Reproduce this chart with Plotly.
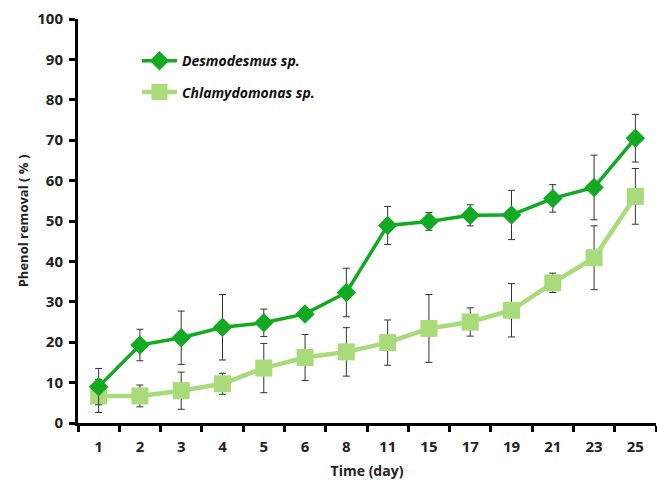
import plotly.graph_objects as go

days = ["1", "2", "3", "4", "5", "6", "8", "11", "15", "17", "19", "21", "23", "25"]
desmo = [9.0, 19.3, 21.1, 23.7, 24.8, 27.0, 32.3, 48.9, 49.9, 51.4, 51.5, 55.6, 58.3, 70.5]
desmo_err = [4.5, 3.9, 6.6, 8.1, 3.4, 1.3, 6.0, 4.7, 2.2, 2.6, 6.1, 3.4, 8.0, 5.9]
chlamy = [6.7, 6.7, 8.0, 9.7, 13.6, 16.2, 17.6, 19.9, 23.4, 25.0, 27.9, 34.7, 40.9, 56.1]
chlamy_err = [4.1, 2.7, 4.6, 2.6, 6.1, 5.7, 6.0, 5.6, 8.4, 3.5, 6.6, 2.4, 7.9, 6.9]
y_ticks = [0, 10, 20, 30, 40, 50, 60, 70, 80, 90, 100]

dark = "#13AA23"
light = "#A9DB7B"
font_fam = "'Open Sans', Lato, sans-serif"

fig = go.Figure()
fig.add_trace(go.Scatter(
    x=days, y=chlamy, name="Chlamydomonas sp.", legendgroup="b", legendrank=2,
    mode="lines+markers",
    line=dict(color=light, width=4.5),
    marker=dict(symbol="square", size=17, color=light),
    error_y=dict(type="data", array=chlamy_err, color="#333333", thickness=1, width=3.5),
))
fig.add_trace(go.Scatter(
    x=days, y=desmo, name="Desmodesmus sp.", legendgroup="a", legendrank=1,
    mode="lines+markers",
    line=dict(color=dark, width=3.5),
    marker=dict(symbol="diamond", size=15, color=dark),
    error_y=dict(type="data", array=desmo_err, color="#333333", thickness=1, width=3.5),
))

fig.update_layout(
    width=657, height=481,
    margin=dict(l=78, r=1, t=19, b=58),
    paper_bgcolor="white", plot_bgcolor="white",
    font=dict(family=font_fam, color="#222222"),
    showlegend=True,
    legend=dict(
        x=0.102, y=0.935, xanchor="left", yanchor="top",
        bgcolor="rgba(0,0,0,0)", tracegroupgap=10, itemwidth=35,
        font=dict(size=14, family=font_fam, color="#111111", style="italic", weight="bold"),
    ),
    xaxis=dict(
        type="category", range=[-0.5, 13.5],
        showline=True, linecolor="black", linewidth=3,
        ticks="outside", ticklen=6, tickwidth=3, tickcolor="black",
        tickson="boundaries", showgrid=False, zeroline=False,
        ticklabelstandoff=8,
        tickfont=dict(size=15, weight="bold", family=font_fam, color="#222222"),
        title=dict(text="Time (day)", font=dict(size=14, weight="bold", family=font_fam, color="#222222"), standoff=12),
    ),
    yaxis=dict(
        range=[0, 100], tickvals=y_ticks,
        showline=True, linecolor="black", linewidth=3,
        ticks="outside", ticklen=6, tickwidth=3, tickcolor="black",
        showgrid=False, zeroline=False,
        ticklabelstandoff=3,
        tickfont=dict(size=15, weight="bold", family=font_fam, color="#222222"),
        title=dict(text="Phenol removal ( % )", font=dict(size=13, weight="bold", family=font_fam, color="#222222"), standoff=6),
    ),
)

fig.write_html("out.html")
